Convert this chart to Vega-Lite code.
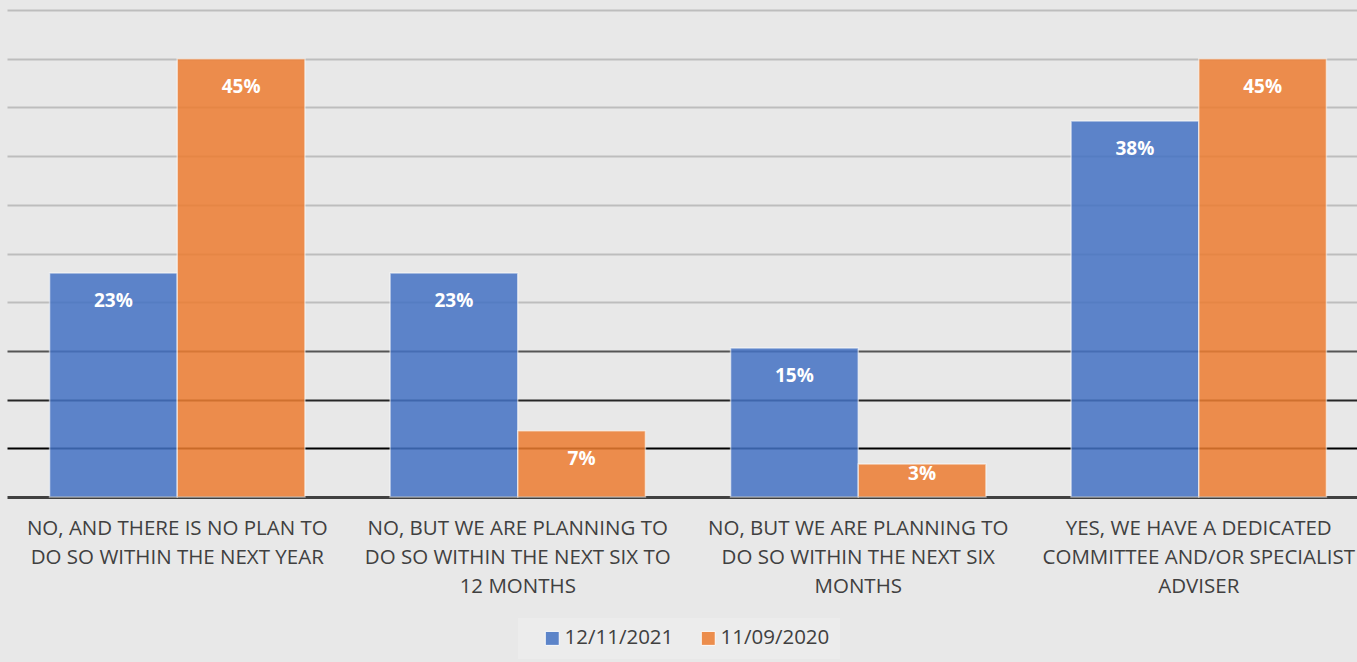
{
  "$schema": "https://vega.github.io/schema/vega-lite/v6.json",
  "autosize": "none",
  "width": 1362,
  "height": 487,
  "padding": {"left": 7, "top": 10, "right": 0, "bottom": 165},
  "background": "#e8e8e8",
  "config": {
    "view": {"stroke": null},
    "font": "Open Sans"
  },
  "data": {
    "values": [
      {"cat": "NO, AND THERE IS NO PLAN TO|DO SO WITHIN THE NEXT YEAR", "series": "12/11/2021", "value": 23, "label": "23%"},
      {"cat": "NO, AND THERE IS NO PLAN TO|DO SO WITHIN THE NEXT YEAR", "series": "11/09/2020", "value": 45, "label": "45%"},
      {"cat": "NO, BUT WE ARE PLANNING TO|DO SO WITHIN THE NEXT SIX TO|12 MONTHS", "series": "12/11/2021", "value": 23, "label": "23%"},
      {"cat": "NO, BUT WE ARE PLANNING TO|DO SO WITHIN THE NEXT SIX TO|12 MONTHS", "series": "11/09/2020", "value": 6.8, "label": "7%"},
      {"cat": "NO, BUT WE ARE PLANNING TO|DO SO WITHIN THE NEXT SIX|MONTHS", "series": "12/11/2021", "value": 15.3, "label": "15%"},
      {"cat": "NO, BUT WE ARE PLANNING TO|DO SO WITHIN THE NEXT SIX|MONTHS", "series": "11/09/2020", "value": 3.4, "label": "3%"},
      {"cat": "YES, WE HAVE A DEDICATED|COMMITTEE AND/OR SPECIALIST|ADVISER", "series": "12/11/2021", "value": 38.6, "label": "38%"},
      {"cat": "YES, WE HAVE A DEDICATED|COMMITTEE AND/OR SPECIALIST|ADVISER", "series": "11/09/2020", "value": 45, "label": "45%"}
    ]
  },
  "encoding": {
    "x": {
      "field": "cat", "type": "nominal", "sort": null,
      "scale": {"paddingInner": 0.25, "paddingOuter": 0.125},
      "axis": {
        "title": null, "labelAngle": 0, "ticks": false,
        "labelExpr": "split(datum.label, '|')",
        "labelFontSize": 20.5, "labelColor": "#404040", "labelLineHeight": 29,
        "labelPadding": 21, "labelLimit": 400,
        "domainColor": "#404040", "domainWidth": 3
      }
    },
    "xOffset": {"field": "series", "type": "nominal", "sort": ["12/11/2021", "11/09/2020"]},
    "y": {
      "field": "value", "type": "quantitative",
      "scale": {"domain": [0, 50], "nice": false},
      "axis": {
        "title": null, "labels": false, "ticks": false, "domain": false,
        "values": [5, 10, 15, 20, 25, 30, 35, 40, 45, 50],
        "gridColor": {"condition": [
          {"test": "datum.value <= 5", "value": "#000000"},
          {"test": "datum.value <= 10", "value": "#262626"},
          {"test": "datum.value <= 15", "value": "#555555"}
        ], "value": "#bdbdbd"},
        "gridWidth": 2
      }
    }
  },
  "layer": [
    {
      "mark": {"type": "bar", "opacity": 0.85, "stroke": "#ffffff", "strokeWidth": 1.5, "strokeOpacity": 0.6},
      "encoding": {
        "color": {
          "field": "series", "type": "nominal",
          "sort": ["12/11/2021", "11/09/2020"],
          "scale": {"domain": ["12/11/2021", "11/09/2020"], "range": ["#4472C4", "#ED7D31"]},
          "legend": {
            "title": null, "orient": "none", "direction": "horizontal",
            "legendX": 511, "legendY": 608,
            "symbolType": "square", "symbolSize": 196, "symbolOpacity": 0.85,
            "symbolStrokeColor": "#ffffff", "symbolStrokeWidth": 1,
            "labelFontSize": 20.5, "labelColor": "#404040", "labelOffset": 2,
            "columnPadding": 10, "symbolOffset": 14,
            "fillColor": "#ececec", "padding": 10
          }
        }
      }
    },
    {
      "transform": [{"filter": "datum.value >= 5"}],
      "mark": {"type": "text", "color": "white", "fontWeight": "bold", "fontSize": 19, "baseline": "middle", "dy": 28},
      "encoding": {"text": {"field": "label"}}
    },
    {
      "transform": [{"filter": "datum.value < 5"}],
      "mark": {"type": "text", "color": "white", "fontWeight": "bold", "fontSize": 19, "baseline": "middle", "dy": 10},
      "encoding": {"text": {"field": "label"}}
    }
  ]
}
